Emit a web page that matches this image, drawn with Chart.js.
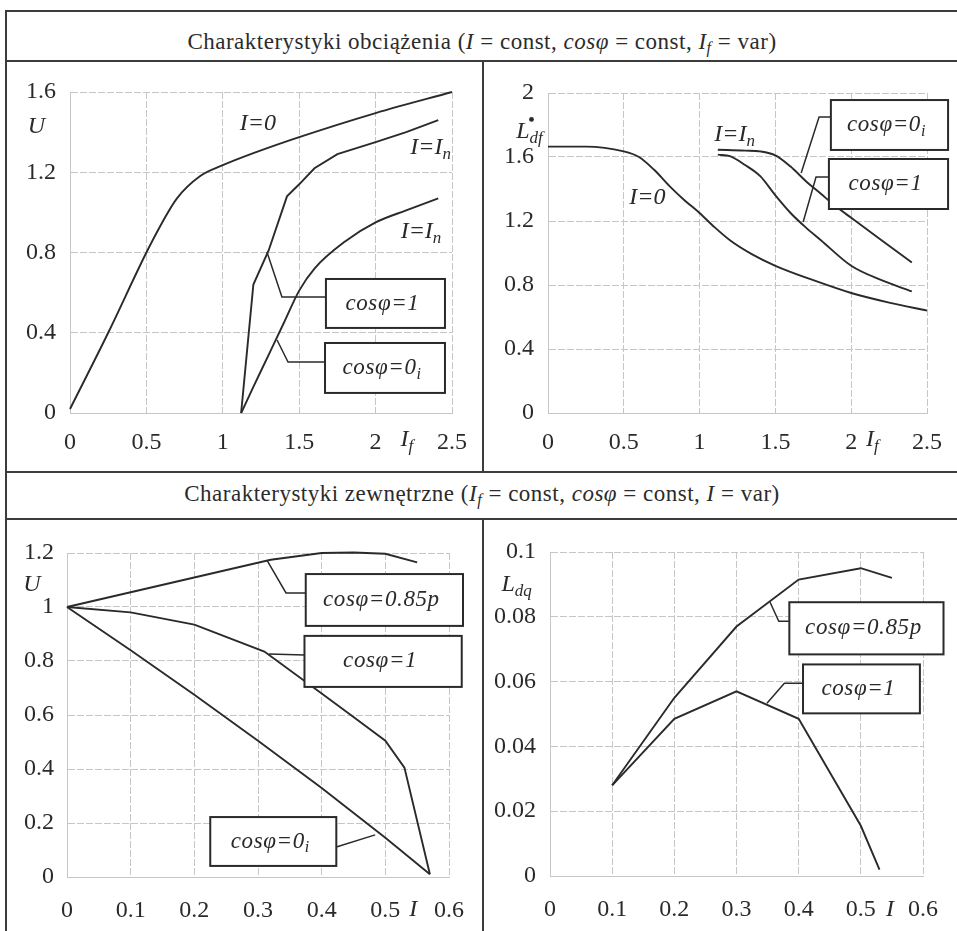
<!DOCTYPE html>
<html>
<head>
<meta charset="utf-8">
<script src="https://cdn.jsdelivr.net/npm/chart.js@4.4.0/dist/chart.umd.min.js"></script>
<style>
  body { margin: 0; background: #fff; }
  #page { position: relative; width: 957px; height: 931px; overflow: hidden; background: #fff;
          font-family: "Liberation Serif", "Times New Roman", serif; color: #2b2b2b; }
  .hl { position: absolute; height: 2px; background: #3c3c3c; }
  .vl { position: absolute; width: 2px; background: #3c3c3c; }
  .title { position: absolute; left: 6px; width: 952px; height: 26px; line-height: 26px;
           text-align: center; font-size: 23px; letter-spacing: 0.5px; white-space: nowrap; }
  .title sub { font-size: 0.7em; vertical-align: -0.25em; line-height: 0; }
  canvas { position: absolute; }
</style>
</head>
<body>
<div id="page">
  <div class="hl" style="left:6px;top:10px;width:960px"></div>
  <div class="hl" style="left:6px;top:60px;width:960px"></div>
  <div class="hl" style="left:6px;top:471px;width:960px"></div>
  <div class="hl" style="left:6px;top:518px;width:960px"></div>
  <div class="vl" style="left:5px;top:10px;height:930px"></div>
  <div class="vl" style="left:482px;top:60px;height:412px"></div>
  <div class="vl" style="left:482px;top:518px;height:420px"></div>

  <div class="title" style="top:29px">Charakterystyki obciążenia (<i>I</i> = const, <i>cosφ</i> = const, <i>I<sub>f</sub></i> = var)</div>
  <div class="title" style="top:481px">Charakterystyki zewnętrzne (<i>I<sub>f</sub></i> = const, <i>cosφ</i> = const, <i>I</i> = var)</div>

  <canvas id="c-tl" width="476" height="410" style="left:7px;top:62px"></canvas>
  <canvas id="c-tr" width="473" height="410" style="left:484px;top:62px"></canvas>
  <canvas id="c-bl" width="476" height="411" style="left:7px;top:520px"></canvas>
  <canvas id="c-br" width="473" height="411" style="left:484px;top:520px"></canvas>
</div>

<script>
/* ── Data ─────────────────────────────────────────────── */

// tick values
const ifTicks   = [0, 0.5, 1, 1.5, 2, 2.5];
const uTopTicks = [0, 0.4, 0.8, 1.2, 1.6];
const ldfTicks  = [0, 0.4, 0.8, 1.2, 1.6, 2];
const iTicks    = [0, 0.1, 0.2, 0.3, 0.4, 0.5, 0.6];
const uBotTicks = [0, 0.2, 0.4, 0.6, 0.8, 1, 1.2];
const ldqTicks  = [0, 0.02, 0.04, 0.06, 0.08, 0.1];

// top-left: U(If)
const tlIfIdle = [0, 0.25, 0.5, 0.6, 0.7, 0.85, 1.0, 1.2, 1.5, 2.0, 2.5];
const tlUIdle  = [0.02, 0.4, 0.8, 0.945, 1.07, 1.18, 1.235, 1.295, 1.375, 1.495, 1.6];
const tlIfRes  = [1.12, 1.2, 1.3, 1.42, 1.5, 1.6, 1.75, 2.0, 2.2, 2.41];
const tlURes   = [0, 0.64, 0.81, 1.08, 1.14, 1.22, 1.29, 1.35, 1.4, 1.46];
const tlIfInd  = [1.12, 1.2, 1.3, 1.4, 1.5, 1.6, 1.8, 2.0, 2.2, 2.41];
const tlUInd   = [0, 0.13, 0.29, 0.45, 0.61, 0.72, 0.855, 0.95, 1.01, 1.07];

// top-right: Ldf(If)
const trIfIdle = [0, 0.25, 0.5, 0.6, 0.7, 0.8, 0.9, 1.0, 1.1, 1.2, 1.35, 1.5, 1.75, 2.0, 2.25, 2.5];
const trLIdle  = [1.665, 1.665, 1.635, 1.6, 1.52, 1.42, 1.33, 1.25, 1.16, 1.08, 0.99, 0.92, 0.83, 0.75, 0.69, 0.64];
const trIfInd  = [1.12, 1.3, 1.4, 1.5, 1.6, 1.7, 1.8, 1.9, 2.0, 2.2, 2.4];
const trLInd   = [1.645, 1.64, 1.635, 1.61, 1.54, 1.45, 1.37, 1.29, 1.22, 1.08, 0.94];
const trIfRes  = [1.12, 1.2, 1.3, 1.4, 1.5, 1.6, 1.7, 1.8, 2.0, 2.2, 2.4];
const trLRes   = [1.615, 1.605, 1.55, 1.48, 1.36, 1.25, 1.16, 1.08, 0.92, 0.83, 0.76];

// bottom-left: U(I)
const blI85 = [0, 0.32, 0.4, 0.45, 0.5, 0.55];
const blU85 = [1.0, 1.175, 1.2, 1.202, 1.197, 1.165];
const blI1  = [0, 0.1, 0.2, 0.31, 0.4, 0.45, 0.5, 0.53, 0.57];
const blU1  = [1.0, 0.98, 0.935, 0.835, 0.68, 0.593, 0.505, 0.405, 0.01];
const blI0  = [0, 0.1, 0.2, 0.3, 0.4, 0.5, 0.57];
const blU0  = [1.0, 0.84, 0.675, 0.505, 0.33, 0.145, 0.01];

// bottom-right: Ldq(I)
const brI85 = [0.1, 0.2, 0.3, 0.4, 0.5, 0.55];
const brL85 = [0.028, 0.055, 0.077, 0.0915, 0.095, 0.092];
const brI1  = [0.1, 0.2, 0.3, 0.4, 0.5, 0.53];
const brL1  = [0.028, 0.0485, 0.057, 0.0485, 0.0155, 0.002];

/* ── Look ─────────────────────────────────────────────── */
const FONT = '"Liberation Serif", "Times New Roman", serif';
const INK  = '#2a2a2a';
const GRID = '#c6c6c6';
const SIZE = 24;      // ticks and free labels
const BOX_SIZE = 23;  // text inside the framed labels

// text pieces
const cos1  = [{ t: 'cosφ=1', it: 1 }];
const cos0i = [{ t: 'cosφ=0', it: 1 }, { t: 'i', it: 1, sub: 1 }];
const cos85 = [{ t: 'cosφ=0.85p', it: 1 }];
const iZero = [{ t: 'I=0', it: 1 }];
const iNom  = [{ t: 'I=I', it: 1 }, { t: 'n', it: 1, sub: 1 }];
const lblU  = [{ t: 'U', it: 1 }];
const lblI  = [{ t: 'I', it: 1 }];
const lblIf = [{ t: 'I', it: 1 }, { t: 'f', it: 1, sub: 1 }];
const lblLdf = [{ t: 'L', it: 1 }, { dot: 1 }, { t: 'df', it: 1, sub: 1 }];
const lblLdq = [{ t: 'L', it: 1 }, { t: 'dq', it: 1, sub: 1 }];

function pts(xs, ys) { return xs.map((x, i) => ({ x, y: ys[i] })); }

function drawRich(ctx, segs, x, y, size, align, spacing) {
  const fontOf = s => (s.it ? 'italic ' : '') + Math.round(s.sub ? size * 0.7 : size) + 'px ' + FONT;
  if ('letterSpacing' in ctx) ctx.letterSpacing = (spacing || 0) + 'px';
  let w = 0;
  segs.forEach(s => { if (s.dot) return; ctx.font = fontOf(s); w += ctx.measureText(s.t).width; });
  let cx = align === 'center' ? x - w / 2 : align === 'right' ? x - w : x;
  ctx.fillStyle = INK;
  ctx.textBaseline = 'middle';
  ctx.textAlign = 'left';
  segs.forEach(s => {
    if (s.dot) {
      ctx.beginPath();
      ctx.arc(cx + 2, y - size * 0.5, 2.4, 0, Math.PI * 2);
      ctx.fill();
      return;
    }
    ctx.font = fontOf(s);
    const dy = s.sub ? size * 0.28 : 0;
    ctx.fillText(s.t, cx, y + dy);
    cx += ctx.measureText(s.t).width;
  });
  if ('letterSpacing' in ctx) ctx.letterSpacing = '0px';
}

// leader lines, framed labels and free labels, all placed in data units
function notesPlugin(notes) {
  return {
    id: 'notes',
    afterDatasetsDraw(chart) {
      const { ctx, scales: { x, y } } = chart;
      const px = v => x.getPixelForValue(v), py = v => y.getPixelForValue(v);
      ctx.save();
      ctx.strokeStyle = INK;
      ctx.lineWidth = 1.5;
      (notes.leaders || []).forEach(line => {
        ctx.beginPath();
        line.forEach(([a, b], i) => i ? ctx.lineTo(px(a), py(b)) : ctx.moveTo(px(a), py(b)));
        ctx.stroke();
      });
      (notes.boxes || []).forEach(b => {
        const l = px(b.x0), r = px(b.x1), t = py(b.y1), bt = py(b.y0);
        ctx.fillStyle = '#fff';
        ctx.fillRect(l, t, r - l, bt - t);
        ctx.lineWidth = 2;
        ctx.strokeRect(l, t, r - l, bt - t);
        drawRich(ctx, b.text, (l + r) / 2 - 3, (t + bt) / 2, BOX_SIZE, 'center', 0.6);
      });
      (notes.labels || []).forEach(lb => drawRich(ctx, lb.text, px(lb.x), py(lb.y), SIZE, lb.align || 'center', 0));
      ctx.restore();
    }
  };
}

function axis(min, max, ticks, size, pad) {
  return {
    type: 'linear', min, max,
    afterBuildTicks: s => { s.ticks = ticks.map(v => ({ value: v })); },
    afterFit: s => { if (s.isHorizontal()) s.height = size; else s.width = size; },
    grid: { color: GRID, lineWidth: 1, drawTicks: false },
    border: { color: GRID, width: 1, dash: [7, 2] },
    ticks: { color: INK, padding: pad, font: { family: FONT, size: SIZE }, callback: v => String(v) }
  };
}

function makeChart(id, datasets, opts) {
  return new Chart(document.getElementById(id), {
    type: 'line',
    data: {
      datasets: datasets.map(d => ({
        data: d.data,
        borderColor: INK,
        borderWidth: 1.9,
        pointRadius: 0,
        fill: false,
        clip: false,
        tension: d.smooth ? 0.4 : 0,
        cubicInterpolationMode: d.smooth ? 'monotone' : 'default'
      }))
    },
    options: {
      responsive: false,
      animation: false,
      layout: { padding: opts.padding },
      plugins: { legend: { display: false }, tooltip: { enabled: false } },
      scales: { x: opts.x, y: opts.y }
    },
    plugins: [notesPlugin(opts.notes)]
  });
}

/* ── Charts ───────────────────────────────────────────── */
makeChart('c-tl', [
  { data: pts(tlIfIdle, tlUIdle), smooth: true },
  { data: pts(tlIfRes, tlURes) },
  { data: pts(tlIfInd, tlUInd), smooth: true }
], {
  padding: { top: 30, right: 31, left: 0, bottom: 0 },
  x: axis(0, 2.5, ifTicks, 59, 15),
  y: axis(0, 1.6, uTopTicks, 63, 14),
  notes: {
    leaders: [
      [[1.669, 0.578], [1.387, 0.578], [1.289, 0.803]],
      [[1.669, 0.254], [1.427, 0.254], [1.355, 0.364]]
    ],
    boxes: [
      { x0: 1.675, x1: 2.454, y0: 0.424, y1: 0.668, text: cos1 },
      { x0: 1.669, x1: 2.454, y0: 0.1, y1: 0.349, text: cos0i }
    ],
    labels: [
      { x: 1.23, y: 1.44, text: iZero },
      { x: 2.36, y: 1.32, text: iNom },
      { x: 2.297, y: 0.902, text: iNom },
      { x: -0.22, y: 1.425, text: lblU },
      { x: 2.205, y: -0.135, text: lblIf }
    ]
  }
});

makeChart('c-tr', [
  { data: pts(trIfIdle, trLIdle), smooth: true },
  { data: pts(trIfInd, trLInd), smooth: true },
  { data: pts(trIfRes, trLRes), smooth: true }
], {
  padding: { top: 31, right: 27, left: 0, bottom: 0 },
  x: axis(0, 2.5, ifTicks, 59, 15),
  y: axis(0, 2, ldfTicks, 64, 14),
  notes: {
    leaders: [
      [[1.866, 1.85], [1.788, 1.85], [1.67, 1.5]],
      [[1.853, 1.475], [1.768, 1.475], [1.683, 1.194]]
    ],
    boxes: [
      { x0: 1.866, x1: 2.639, y0: 1.644, y1: 1.956, text: cos0i },
      { x0: 1.853, x1: 2.639, y0: 1.275, y1: 1.5875, text: cos1 }
    ],
    labels: [
      { x: 0.655, y: 1.344, text: iZero },
      { x: 1.231, y: 1.7375, text: iNom },
      { x: -0.21, y: 1.76, text: lblLdf, align: 'left' },
      { x: 2.14, y: -0.169, text: lblIf }
    ]
  }
});

makeChart('c-bl', [
  { data: pts(blI85, blU85) },
  { data: pts(blI1, blU1) },
  { data: pts(blI0, blU0) }
], {
  padding: { top: 33, right: 31, left: 0, bottom: 0 },
  x: axis(0, 0.6, iTicks, 54, 19),
  y: axis(0, 1.2, uBotTicks, 60, 13),
  notes: {
    leaders: [
      [[0.375, 1.052], [0.344, 1.052], [0.314, 1.174]],
      [[0.373, 0.822], [0.317, 0.826]],
      [[0.423, 0.111], [0.484, 0.156]]
    ],
    boxes: [
      { x0: 0.375, x1: 0.622, y0: 0.93, y1: 1.122, text: cos85 },
      { x0: 0.373, x1: 0.620, y0: 0.704, y1: 0.893, text: cos1 },
      { x0: 0.225, x1: 0.423, y0: 0.041, y1: 0.222, text: cos0i }
    ],
    labels: [
      { x: -0.055, y: 1.081, text: lblU },
      { x: 0.544, y: -0.122, text: lblI }
    ]
  }
});

makeChart('c-br', [
  { data: pts(brI85, brL85) },
  { data: pts(brI1, brL1) }
], {
  padding: { top: 32, right: 24, left: 0, bottom: 0 },
  x: axis(0, 0.6, iTicks, 55, 19),
  y: axis(0, 0.1, ldqTicks, 66, 14),
  notes: {
    leaders: [
      [[0.385, 0.0786], [0.368, 0.0786], [0.354, 0.0845]],
      [[0.407, 0.0595], [0.377, 0.0595], [0.349, 0.0533]]
    ],
    boxes: [
      { x0: 0.385, x1: 0.633, y0: 0.0684, y1: 0.0845, text: cos85 },
      { x0: 0.407, x1: 0.595, y0: 0.0502, y1: 0.0653, text: cos1 }
    ],
    labels: [
      { x: -0.078, y: 0.0898, text: lblLdq, align: 'left' },
      { x: 0.547, y: -0.0105, text: lblI }
    ]
  }
});
</script>
</body>
</html>
